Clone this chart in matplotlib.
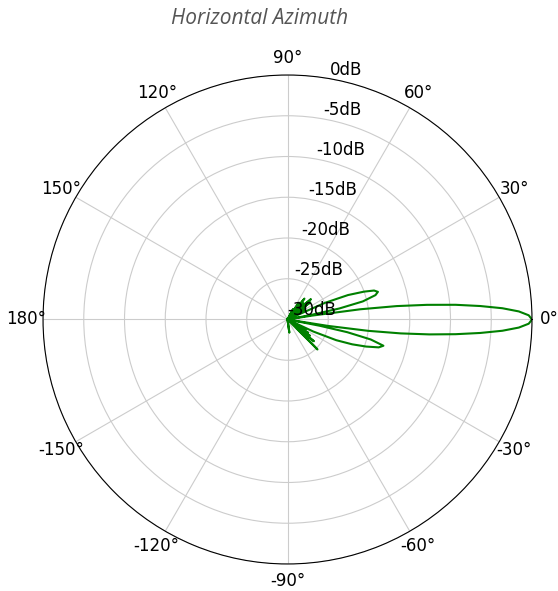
import numpy as np
import matplotlib
matplotlib.use("Agg")
import matplotlib.pyplot as plt

# azimuth pattern (degrees, dB); -30 is the plot floor
angle_deg = [-180, -120, -90, -85, -82, -79, -70, -55, -48, -45, -41.5, -39.5, -38, -36,
             -35, -33, -31, -29, -27, -25, -23, -21, -19, -17, -15.3, -13.5, -12, -11,
             -10, -9, -8, -7, -6, -5, -4, -3, -2, -1, 0, 1, 2, 3, 4, 5, 6, 7, 8, 9,
             10, 11, 12, 13.5, 15.5, 17, 18.5, 20, 22, 24, 26, 28, 31, 34, 37, 39.5,
             41, 44, 46, 48.5, 51, 53.5, 56, 59, 62, 65, 90, 180]
gain_db = [-30, -30, -30, -30, -28.4, -30, -30, -30, -30, -24.8, -28.5, -25.8, -28.5, -26.6,
           -29, -27, -30, -27.5, -30, -26.5, -23.5, -21.5, -19.8, -18.3, -17.8, -19.5, -22.5, -26,
           -30, -25, -20, -16, -12.5, -9.3, -6.3, -3.6, -1.6, -0.4, 0, -0.4, -1.6, -3.6, -6.3, -9.3, -12.8, -16.5, -21, -27,
           -30, -27, -23.5, -20.5, -18.8, -18.4, -18.8, -20, -22, -25, -30, -30, -27.5, -30, -26.5, -29,
           -26.2, -28.5, -27.2, -29, -26.7, -29.5, -27.5, -30, -28.6, -30, -30, -30]

r_ticks = [-30, -25, -20, -15, -10, -5, 0]
theta_ticks = [0, 30, 60, 90, 120, 150, 180, -150, -120, -90, -60, -30]

fig = plt.figure(figsize=(5.58, 5.91), dpi=100)
ax = fig.add_axes([0.0771, 0.0457, 0.8763, 0.8274], projection="polar")

theta = np.deg2rad(angle_deg)
ax.plot(theta, gain_db, color="green", lw=1.5)

ax.set_ylim(-30, 0)
ax.set_xticks(np.deg2rad([t % 360 for t in theta_ticks]))
ax.set_xticklabels([])
ax.set_xlim(0, 2 * np.pi)
ax.set_yticks(r_ticks)
ax.set_yticklabels([])

# angle labels centred just outside the rim
for t in theta_ticks:
    ax.text(np.deg2rad(t % 360), 2.1, f"{t}°", ha="center", va="center",
            fontsize=12, clip_on=False)
# dB labels along the 80 degree spoke
for r in r_ticks:
    ax.text(np.deg2rad(80), r, f"{r}dB", ha="left", va="bottom", fontsize=12)

ax.grid(True, color="#cccccc", lw=0.8)
ax.spines["polar"].set_linewidth(0.8)

fig.text(0.465, 0.968, "Horizontal Azimuth", ha="center", va="center",
         fontsize=15, style="italic", color="#555555", family="Open Sans")

fig.savefig("out.png", dpi=100)
